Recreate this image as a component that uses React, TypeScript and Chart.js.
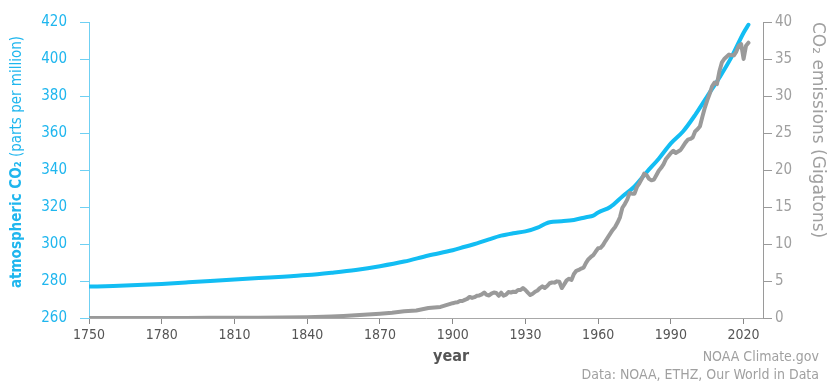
import React, { useEffect, useRef } from 'react';
import { Chart, registerables } from 'chart.js';

Chart.register(...registerables);

const FONT = '"DejaVu Sans Condensed", "DejaVu Sans", sans-serif';
const FONT_WIDE = '"DejaVu Sans", sans-serif';

const xTickYears = [1750, 1780, 1810, 1840, 1870, 1900, 1930, 1960, 1990, 2020];
const ppmTicks = [260, 280, 300, 320, 340, 360, 380, 400, 420];
const gtTicks = [0, 5, 10, 15, 20, 25, 30, 35, 40];

const co2Years = [
  1750, 1760, 1770, 1780, 1790, 1800, 1810, 1820, 1830, 1840, 1850, 1860, 1870, 1880, 1890,
  1900, 1905, 1910, 1915, 1920, 1925, 1930, 1935, 1938, 1940, 1945, 1950, 1955, 1958, 1960,
  1965, 1970, 1975, 1980, 1985, 1990, 1995, 2000, 2005, 2010, 2015, 2020, 2022,
];
const co2Ppm = [
  277.0, 277.3, 277.8, 278.4, 279.2, 280.0, 280.8, 281.6, 282.3, 283.2, 284.5, 286.0, 288.0, 290.5, 293.8,
  296.6, 298.5, 300.3, 302.5, 304.5, 305.8, 306.8, 308.8, 310.8, 311.8, 312.3, 313.0, 314.5, 315.3, 317.0,
  320.0, 325.7, 331.1, 338.8, 346.1, 354.4, 360.8, 369.7, 379.8, 389.9, 401.0, 414.2, 418.5,
];

const emissionYears = [
  1750, 1760, 1770, 1780, 1790, 1800, 1810, 1820, 1830, 1840, 1850, 1855, 1860, 1865, 1870, 1875, 1880, 1885, 1890, 1895,
  1900, 1901, 1902, 1903, 1904, 1905, 1906, 1907, 1908, 1909,
  1910, 1911, 1912, 1913, 1914, 1915, 1916, 1917, 1918, 1919,
  1920, 1921, 1922, 1923, 1924, 1925, 1926, 1927, 1928, 1929,
  1930, 1931, 1932, 1933, 1934, 1935, 1936, 1937, 1938, 1939,
  1940, 1941, 1942, 1943, 1944, 1945, 1946, 1947, 1948, 1949,
  1950, 1951, 1952, 1953, 1954, 1955, 1956, 1957, 1958, 1959,
  1960, 1961, 1962, 1963, 1964, 1965, 1966, 1967, 1968, 1969,
  1970, 1971, 1972, 1973, 1974, 1975, 1976, 1977, 1978, 1979,
  1980, 1981, 1982, 1983, 1984, 1985, 1986, 1987, 1988, 1989,
  1990, 1991, 1992, 1993, 1994, 1995, 1996, 1997, 1998, 1999,
  2000, 2001, 2002, 2003, 2004, 2005, 2006, 2007, 2008, 2009,
  2010, 2011, 2012, 2013, 2014, 2015, 2016, 2017, 2018, 2019,
  2020, 2021, 2022,
];
const emissionGt = [
  0.01, 0.01, 0.012, 0.013, 0.015, 0.03, 0.035, 0.045, 0.07, 0.1, 0.2, 0.27, 0.37, 0.47, 0.58, 0.72, 0.9, 1.02, 1.35, 1.5,
  2.0, 2.08, 2.12, 2.3, 2.3, 2.45, 2.58, 2.85, 2.72, 2.82,
  3.0, 3.05, 3.2, 3.45, 3.12, 3.05, 3.3, 3.45, 3.38, 3.0,
  3.42, 3.02, 3.15, 3.5, 3.45, 3.55, 3.5, 3.8, 3.78, 4.05,
  3.78, 3.42, 3.1, 3.28, 3.55, 3.72, 4.05, 4.28, 4.05, 4.32,
  4.7, 4.8, 4.78, 4.95, 4.9, 4.05, 4.55, 5.08, 5.3, 5.15,
  5.95, 6.38, 6.5, 6.68, 6.8, 7.45, 7.95, 8.25, 8.5, 8.98,
  9.42, 9.48, 9.85, 10.4, 10.9, 11.4, 11.9, 12.3, 12.9, 13.6,
  14.9, 15.4, 16.0, 16.9, 16.8, 16.8, 17.7, 18.2, 18.8, 19.5,
  19.3, 18.8, 18.6, 18.7, 19.3, 19.9, 20.3, 20.8, 21.5, 21.9,
  22.3, 22.6, 22.3, 22.5, 22.7, 23.2, 23.7, 24.1, 24.2, 24.4,
  25.2, 25.5, 25.9, 27.2, 28.4, 29.4, 30.3, 31.3, 31.8, 31.6,
  33.3, 34.5, 35.0, 35.3, 35.6, 35.5, 35.5, 36.0, 36.8, 37.0,
  35.0, 36.8, 37.2,
];

const BLUE = '#12bdf3';
const BLUE_TEXT = '#1fb6ee';
const BLUE_AXIS = '#6fd0f3';
const GRAY = '#9a9a9a';
const GRAY_TEXT = '#a0a0a0';
const DARK_TEXT = '#555555';

const textPlugin = {
  id: 'textPlugin',
  afterDraw(chart: any) {
    const ctx: CanvasRenderingContext2D = chart.ctx;
    ctx.save();
    // left title
    ctx.save();
    ctx.translate(17, 288);
    ctx.rotate(-Math.PI / 2);
    ctx.textAlign = 'left';
    ctx.textBaseline = 'middle';
    ctx.fillStyle = BLUE_TEXT;
    ctx.font = `bold 15px ${FONT}`;
    const p1 = 'atmospheric CO₂';
    ctx.fillText(p1, 0, 0);
    const w1 = ctx.measureText(p1).width;
    ctx.font = `15px ${FONT}`;
    ctx.fillText(' (parts per million)', w1, 0);
    ctx.restore();
    // right title
    ctx.save();
    ctx.translate(817, 22);
    ctx.rotate(Math.PI / 2);
    ctx.textAlign = 'left';
    ctx.textBaseline = 'middle';
    ctx.fillStyle = GRAY_TEXT;
    ctx.font = `17px ${FONT_WIDE}`;
    ctx.fillText('CO₂ emissions (Gigatons)', 0, 0);
    ctx.restore();
    // x title
    ctx.textAlign = 'center';
    ctx.textBaseline = 'middle';
    ctx.fillStyle = DARK_TEXT;
    ctx.font = `bold 16px ${FONT}`;
    ctx.fillText('year', 451, 357);
    // credits
    ctx.textAlign = 'right';
    ctx.fillStyle = GRAY_TEXT;
    ctx.font = `14px ${FONT}`;
    ctx.fillText('NOAA Climate.gov', 819, 357);
    ctx.fillText('Data: NOAA, ETHZ, Our World in Data', 819, 375);
    ctx.restore();
  },
};

export default function App() {
  const ref = useRef<HTMLCanvasElement>(null);
  useEffect(() => {
    const chart = new Chart(ref.current as HTMLCanvasElement, {
      type: 'line',
      data: {
        datasets: [
          {
            label: 'CO₂ emissions',
            data: emissionYears.map((x, i) => ({ x, y: emissionGt[i] })),
            yAxisID: 'yR',
            borderColor: GRAY,
            borderWidth: 4,
            pointRadius: 0,
            tension: 0,
            borderJoinStyle: 'round',
            borderCapStyle: 'round',
          },
          {
            label: 'atmospheric CO₂',
            data: co2Years.map((x, i) => ({ x, y: co2Ppm[i] })),
            yAxisID: 'yL',
            borderColor: BLUE,
            borderWidth: 4,
            pointRadius: 0,
            cubicInterpolationMode: 'monotone',
            borderCapStyle: 'round',
          },
        ],
      },
      options: {
        animation: false,
        responsive: false,
        events: [],
        layout: { padding: { left: 0, right: 0, top: 16, bottom: 0 } },
        plugins: { legend: { display: false }, tooltip: { enabled: false }, title: { display: false } },
        scales: {
          x: {
            type: 'linear',
            min: 1750,
            max: 2028,
            afterBuildTicks: (s: any) => {
              s.ticks = xTickYears.map((v) => ({ value: v }));
            },
            afterFit: (s: any) => {
              s.height = 74;
            },
            grid: { drawOnChartArea: false, drawTicks: true, tickLength: 6, color: '#888888' },
            border: { display: true, color: '#a8a8a8', width: 1 },
            ticks: {
              color: DARK_TEXT,
              font: { family: FONT, size: 14 },
              padding: 3,
              maxRotation: 0,
              autoSkip: false,
              callback: (v: any) => String(v),
            },
          },
          yL: {
            type: 'linear',
            position: 'left',
            min: 260,
            max: 420,
            afterBuildTicks: (s: any) => {
              s.ticks = ppmTicks.map((v) => ({ value: v }));
            },
            afterFit: (s: any) => {
              s.width = 89;
            },
            grid: { drawOnChartArea: false, drawTicks: true, tickLength: 9, color: BLUE_AXIS },
            border: { display: true, color: BLUE_AXIS, width: 1 },
            ticks: {
              color: BLUE_TEXT,
              font: { family: FONT, size: 15 },
              padding: 13,
              callback: (v: any) => String(v),
            },
          },
          yR: {
            type: 'linear',
            position: 'right',
            min: 0,
            max: 40,
            afterBuildTicks: (s: any) => {
              s.ticks = gtTicks.map((v) => ({ value: v }));
            },
            afterFit: (s: any) => {
              s.width = 68;
            },
            grid: { drawOnChartArea: false, drawTicks: true, tickLength: 9, color: GRAY },
            border: { display: true, color: GRAY, width: 1 },
            ticks: {
              color: GRAY_TEXT,
              font: { family: FONT, size: 15 },
              padding: 3,
              callback: (v: any) => String(v),
            },
          },
        },
      },
      plugins: [textPlugin],
    } as any);
    return () => chart.destroy();
  }, []);
  return (
    <div style={{ position: 'fixed', left: 0, top: 0, width: 831, height: 392, background: '#ffffff' }}>
      <canvas ref={ref} width={831} height={392} style={{ display: 'block', width: 831, height: 392 }} />
    </div>
  );
}
